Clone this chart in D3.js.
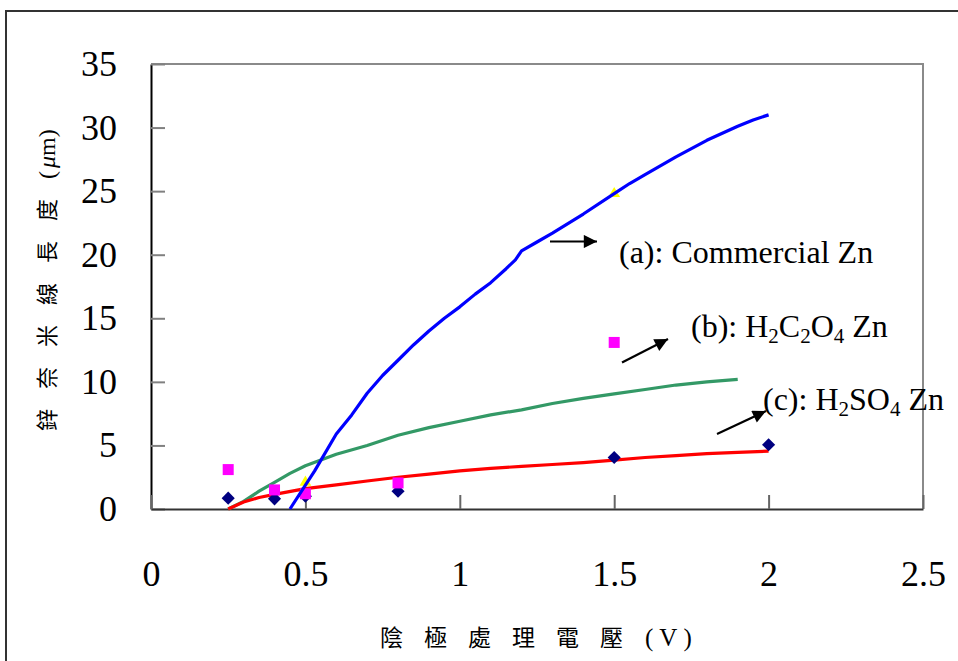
<!DOCTYPE html>
<html>
<head>
<meta charset="utf-8">
<script src="https://cdn.jsdelivr.net/npm/d3@7"></script>
<style>
  html, body { margin: 0; padding: 0; background: #fff; }
  svg { display: block; }
</style>
</head>
<body>
<svg id="chart" width="958" height="661"></svg>
<script>
// ---- data ----
const xTicks = [0, 0.5, 1, 1.5, 2, 2.5];
const yTicks = [0, 5, 10, 15, 20, 25, 30, 35];

// fitted curves
const lineA = [[0.45,0],[0.53,3.0],[0.6,5.9],[0.65,7.4],[0.7,9.1],[0.75,10.5],[0.8,11.7],[0.85,12.9],[0.9,14.0],[0.95,15.0],[1.0,15.9],[1.05,16.9],[1.1,17.8],[1.15,18.9],[1.18,19.6],[1.2,20.3],[1.25,21.0],[1.3,21.7],[1.4,23.2],[1.5,24.8],[1.55,25.6],[1.6,26.3],[1.7,27.7],[1.8,29.0],[1.9,30.1],[1.95,30.6],[2.0,31.0]];
const lineB = [[0.25,0],[0.3,0.6],[0.35,1.4],[0.4,2.1],[0.45,2.8],[0.5,3.4],[0.6,4.3],[0.7,5.0],[0.8,5.8],[0.9,6.4],[1.0,6.9],[1.1,7.4],[1.2,7.8],[1.3,8.3],[1.4,8.7],[1.5,9.05],[1.6,9.4],[1.7,9.75],[1.8,10.0],[1.9,10.2]];
const lineC = [[0.25,0],[0.3,0.55],[0.35,0.9],[0.4,1.15],[0.5,1.6],[0.6,1.9],[0.7,2.2],[0.8,2.5],[0.9,2.75],[1.0,3.0],[1.1,3.2],[1.2,3.35],[1.3,3.5],[1.4,3.65],[1.5,3.85],[1.6,4.05],[1.7,4.2],[1.8,4.35],[1.9,4.45],[2.0,4.55]];

// measured points
const diamonds = [[0.25,0.85],[0.4,0.8],[0.5,1.0],[0.8,1.4],[1.5,4.05],[2.0,5.05]];
const squares  = [[0.25,3.1],[0.4,1.5],[0.5,1.2],[0.8,2.05],[1.5,13.1]];
const triangles = [[0.5,2.1],[1.5,24.8]];

// ---- layout ----
const svg = d3.select("#chart");
const mL = 151, mR = 923, mT = 64, mB = 509;
const x = d3.scaleLinear().domain([0, 2.5]).range([mL, mR]);
const y = d3.scaleLinear().domain([0, 35]).range([mB, mT]);

// outer frame
svg.append("path").attr("d", "M6,670 L6,11 L970,11")
  .attr("fill", "none").attr("stroke", "#333").attr("stroke-width", 2);

// plot frame (top/right gray)
svg.append("path").attr("d", `M${mL},${mT} L${mR},${mT} L${mR},${mB}`)
  .attr("fill", "none").attr("stroke", "#8a8a8a").attr("stroke-width", 2);

const serif = "'Liberation Serif','Times New Roman',serif";

// y axis
const gy = svg.append("g").attr("transform", `translate(${mL},0)`)
  .call(d3.axisLeft(y).tickValues(yTicks).tickSizeInner(-14).tickSizeOuter(0).tickPadding(34).tickFormat(d3.format("d")));
gy.select(".domain").attr("stroke", "#000").attr("stroke-width", 2);
gy.selectAll(".tick line").attr("stroke", "#808080").attr("stroke-width", 2);
gy.selectAll(".tick text").attr("font-family", serif).attr("font-size", 36).attr("fill", "#000");

// x axis
const gx = svg.append("g").attr("transform", `translate(0,${mB})`)
  .call(d3.axisBottom(x).tickValues(xTicks).tickSizeInner(-14).tickSizeOuter(0).tickPadding(51).tickFormat(d => d === 0 ? "0" : String(d)));
gx.select(".domain").attr("stroke", "#333").attr("stroke-width", 2);
gx.selectAll(".tick line").attr("stroke", "#666").attr("stroke-width", 2);
gx.selectAll(".tick text").attr("font-family", serif).attr("font-size", 36).attr("fill", "#000");

// lines
const line = d3.line().x(d => x(d[0])).y(d => y(d[1]));
const plot = svg.append("g");
plot.append("path").datum(lineB).attr("d", line).attr("fill", "none").attr("stroke", "#339966").attr("stroke-width", 3.2).attr("stroke-linejoin", "round");
plot.append("path").datum(lineC).attr("d", line).attr("fill", "none").attr("stroke", "#ff0000").attr("stroke-width", 3.2).attr("stroke-linejoin", "round");

// markers
plot.selectAll(".dia").data(diamonds).join("path")
  .attr("d", d3.symbol(d3.symbolDiamond2 || d3.symbolDiamond, 110))
  .attr("transform", d => `translate(${x(d[0])},${y(d[1])})`)
  .attr("fill", "#000080");
plot.selectAll(".sq").data(squares).join("rect")
  .attr("x", d => x(d[0]) - 5.5).attr("y", d => y(d[1]) - 5.5)
  .attr("width", 11).attr("height", 11).attr("fill", "#ff00ff");
plot.selectAll(".tri").data(triangles).join("path")
  .attr("d", d3.symbol(d3.symbolTriangle, 60))
  .attr("transform", d => `translate(${x(d[0])},${y(d[1])})`)
  .attr("fill", "#ffff00");

plot.append("path").datum(lineA).attr("d", line).attr("fill", "none").attr("stroke", "#0000ff").attr("stroke-width", 3.2).attr("stroke-linejoin", "round");

// annotations
const defs = svg.append("defs");
defs.append("marker").attr("id", "ah").attr("viewBox", "0 0 10 10").attr("refX", 10).attr("refY", 5)
  .attr("markerWidth", 7).attr("markerHeight", 6).attr("markerUnits", "strokeWidth").attr("orient", "auto")
  .append("path").attr("d", "M0,0 L10,5 L0,10 z").attr("fill", "#000");

const arrows = [
  [[550, 241.5], [597, 241.5]],
  [[622, 362.5], [668, 339]],
  [[717, 434], [766, 411]]
];
svg.selectAll(".arr").data(arrows).join("line")
  .attr("x1", d => d[0][0]).attr("y1", d => d[0][1])
  .attr("x2", d => d[1][0]).attr("y2", d => d[1][1])
  .attr("stroke", "#000").attr("stroke-width", 2.2).attr("marker-end", "url(#ah)");

function label(xp, yp, segs) {
  const t = svg.append("text").attr("x", xp).attr("y", yp)
    .attr("font-family", serif).attr("font-size", 32).attr("fill", "#000");
  segs.forEach(s => {
    const ts = t.append("tspan").text(s[0]);
    if (s[1] === "sub") ts.attr("font-size", 21).attr("dy", 6);
    else if (s[1] === "up") ts.attr("dy", -6);
  });
}
label(619, 263, [["(a): Commercial Zn", ""]]);
label(691, 337, [["(b): H", ""], ["2", "sub"], ["C", "up"], ["2", "sub"], ["O", "up"], ["4", "sub"], [" Zn", "up"]]);
label(763, 410, [["(c): H", ""], ["2", "sub"], ["SO", "up"], ["4", "sub"], [" Zn", "up"]]);

// axis titles
const cjk = "'Noto Sans CJK TC','Noto Sans CJK SC',sans-serif";
const xt = svg.append("text").attr("x", 380).attr("y", 646)
  .attr("font-family", cjk).attr("font-size", 23).attr("fill", "#000");
xt.append("tspan").text("陰極處理電壓").attr("letter-spacing", 21);
xt.append("tspan").attr("x", 645).attr("font-family", serif).attr("font-size", 25).attr("letter-spacing", 6).text("(V)");

const yt = svg.append("text").attr("transform", "translate(55,431) rotate(-90)")
  .attr("font-family", cjk).attr("font-size", 22).attr("fill", "#000");
yt.append("tspan").text("鋅奈米線長度").attr("letter-spacing", 20);
yt.append("tspan").attr("font-family", serif).attr("font-size", 24).text("(");
yt.append("tspan").attr("font-family", serif).attr("font-size", 24).attr("font-style", "italic").attr("dx", 3).text("μ");
yt.append("tspan").attr("font-family", serif).attr("font-size", 24).text("m)");
</script>
</body>
</html>
